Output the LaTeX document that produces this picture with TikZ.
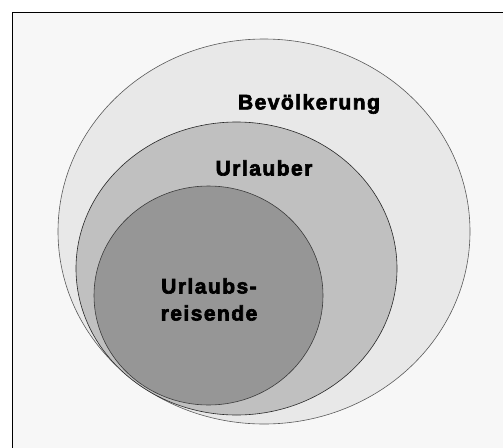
\documentclass[tikz,border=0pt]{standalone}
\usepackage{fontspec}
\setmainfont{Liberation Sans}
\newfontfamily\labelfont[LetterSpace=7,FakeBold=3]{Liberation Sans Bold}
\begin{document}
\begin{tikzpicture}[x=1pt,y=-1pt,
  setlabel/.style={font=\labelfont\fontsize{21}{27}\selectfont, text=black, align=center, inner sep=0pt},
  setring/.style={line width=0.6pt}]
\useasboundingbox (0,0) rectangle (503,447);
\begin{scope}
  \clip (0,0) rectangle (503,447);
  % panel
  \draw[fill={rgb,255:red,247;green,247;blue,247}, line width=1.3pt] (12.3,12.3) rectangle (530,470);
  % nested sets
  \draw[setring, draw={rgb,255:red,90;green,90;blue,90}, fill={rgb,255:red,232;green,232;blue,232}]
    (264,231.5) ellipse [x radius=206, y radius=192.5];
  \draw[setring, draw={rgb,255:red,40;green,40;blue,40}, fill={rgb,255:red,192;green,192;blue,192}]
    (236.5,268.5) ellipse [x radius=160.5, y radius=146.5];
  \draw[setring, draw={rgb,255:red,60;green,60;blue,60}, fill={rgb,255:red,150;green,150;blue,150}]
    (208.5,295.5) ellipse [x radius=114.5, y radius=109.5];
\end{scope}
\node[setlabel] (bev) at (309,104) {Bevölkerung};
\node[setlabel] (url) at (264,168) {Urlauber};
\node[setlabel] (reis) at (209,299.5) {Urlaubs-\\reisende};
\end{tikzpicture}
\end{document}
